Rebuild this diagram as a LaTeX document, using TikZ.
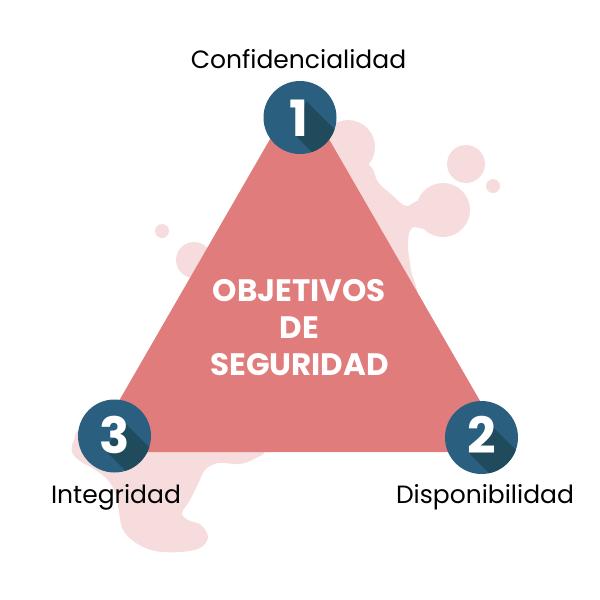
\documentclass[tikz,border=0pt]{standalone}
\usepackage{fontspec}
\setmainfont{Poppins}
\definecolor{blobc}{HTML}{F6DCDC}
\definecolor{tric}{HTML}{E07C7B}
\definecolor{badgec}{HTML}{2A5F80}
\definecolor{shadowc}{HTML}{1F4B5C}
\begin{document}
\begin{tikzpicture}[x=1pt,y=-1pt,
  blob/.style={fill=blobc},
  badge/.style={circle, fill=badgec, minimum size=73pt, inner sep=0pt},
  digit/.style={font=\fontsize{50}{50}\selectfont\bfseries, text=white, anchor=base, inner sep=0pt},
  longshadow/.style={fill=shadowc},
  lbl/.style={font=\fontsize{25}{25}\selectfont, text=black, anchor=base, inner sep=0pt},
  title/.style={font=\fontsize{31}{37}\selectfont\bfseries, text=white, align=center, inner sep=0pt}]
\useasboundingbox (0,0) rectangle (600,600);
% background blobs
\fill[blob] (348,147) circle (27pt);
\fill[blob] (443,210) circle (27pt);
\fill[blob] (466,164) circle (19pt);
\fill[blob] (493,186) circle (7pt);
\fill[blob] (162,231) circle (7pt);
\fill[blob] (194,260) circle (18pt);
\fill[blob] plot[smooth cycle, tension=0.6] coordinates {
  (330,150) (360,160) (372,168) (378,182) (392,195) (406,206) (420,200) (440,205)
  (430,228) (412,228) (408,245) (411,270) (416,300) (380,310) (330,250)};
\fill[blob] plot[smooth cycle, tension=0.6] coordinates {
  (85,428) (74,440) (72,452) (80,461) (94,469) (108,480) (116,495) (119,512)
  (123,530) (136,543) (155,551) (180,552) (200,548) (208,537) (201,525) (188,520)
  (182,513) (190,500) (198,484) (205,470) (218,463) (240,464) (256,458) (264,450)
  (240,430) (150,430)};
% triangle
\fill[tric, rounded corners=8pt] (299.5,88) -- (509.5,452) -- (89.5,452) -- cycle;
% badges
\node[badge] (c1) at (300,117.5) {};
\node[badge] (c2) at (481.5,437.5) {};
\node[badge] (c3) at (114.5,436) {};
% long shadows: glyph top-right / bottom-left corners swept at 45 degrees
\foreach \c/\ax/\ay/\bx/\by in {c1/306/101/297/137, c2/494/428/469/453, c3/127/425/103/448}{
  \begin{scope}
    \clip (\c.center) circle (36.5pt);
    \fill[longshadow] (\ax,\ay) -- ++(60,60) -- (\bx+60,\by+60) -- (\bx,\by) -- cycle;
  \end{scope}
}
% digits
\node[digit] (n1) at (299,136) {1};
\node[digit] (n2) at (481.5,453) {2};
\node[digit] (n3) at (115,453) {3};
% labels
\node[lbl] (l1) at (298.5,68) {Confidencialidad};
\node[lbl] (l2) at (485,503) {Disponibilidad};
\node[lbl] (l3) at (116,503) {Integridad};
\node[title] (t) at (299.5,328) {OBJETIVOS\\DE\\SEGURIDAD};
\end{tikzpicture}
\end{document}
